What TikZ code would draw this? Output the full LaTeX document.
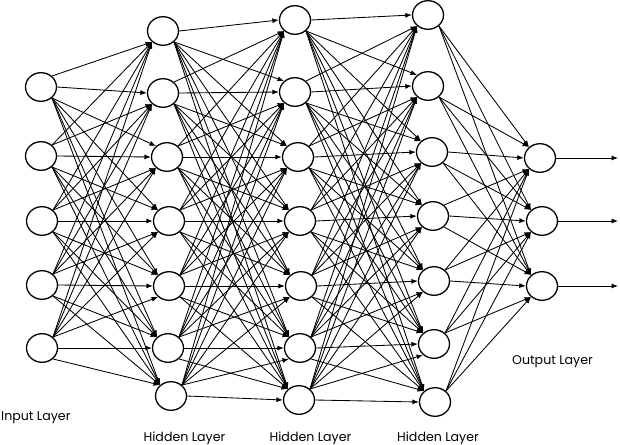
\documentclass[tikz,border=0pt]{standalone}
\usepackage{fontspec}
\setmainfont{Poppins}
\usetikzlibrary{arrows.meta,shapes.geometric}
\begin{document}
\begin{tikzpicture}[x=1pt,y=-1pt,
  neuron/.style={ellipse,draw,line width=1.3pt,minimum width=31pt,minimum height=28.6pt,inner sep=0pt},
  conn/.style={line width=0.85pt,-{Latex[length=6.5pt,width=5pt]}},
  lbl/.style={font=\fontsize{12.6}{14}\selectfont,inner sep=0pt,anchor=base}]
\useasboundingbox (0,0) rectangle (620,444);
% nodes
\foreach \n/\x/\y in {I1/41/87,I2/41/156,I3/42/221,I4/42/285,I5/42/348,
  A1/163/31,A2/163/93,A3/167/157,A4/169/221,A5/169/286,A6/168/348,A7/171/396,
  B1/295/20,B2/295/92,B3/298/157,B4/300/221,B5/301/286,B6/300/348,B7/299/400,
  C1/428/15,C2/428/86,C3/432/152,C4/433/216,C5/434/281,C6/434/344,C7/435/402,
  O1/540/158,O2/542/221,O3/542/286}
  {\node[neuron] (\n) at (\x,\y) {};}
\def\Ilist{I1/87,I2/156,I3/221,I4/285,I5/348}
\def\Alist{A1/31,A2/93,A3/157,A4/221,A5/286,A6/348,A7/396}
\def\Blist{B1/20,B2/92,B3/157,B4/221,B5/286,B6/348,B7/400}
\def\Clist{C1/15,C2/86,C3/152,C4/216,C5/281,C6/344,C7/402}
\def\Olist{O1/158,O2/221,O3/286}
\newcommand{\linklayers}[2]{%
  \foreach \s/\sy in #1 {%
    \foreach \t/\ty in #2 {%
      \pgfmathtruncatemacro\dd{\ty-\sy}%
      \pgfmathtruncatemacro\sa{\dd<-20 ? 45 : (\dd>20 ? 315 : 0)}%
      \pgfmathtruncatemacro\ta{\dd<-20 ? 225 : (\dd>20 ? 135 : 180)}%
      \draw[conn] (\s.\sa) -- (\t.\ta);
    }%
  }%
}
\linklayers{\Ilist}{\Alist}
\linklayers{\Alist}{\Blist}
\linklayers{\Blist}{\Clist}
\linklayers{\Clist}{\Olist}
% outputs
\coordinate (e1) at (618,158);
\coordinate (e2) at (618,221);
\coordinate (e3) at (618,286);
\draw[conn] (O1.east) -- (e1);
\draw[conn] (O2.east) -- (e2);
\draw[conn] (O3.east) -- (e3);
% labels
\node[lbl,anchor=base west] (inl) at (1,420.5) {Input Layer};
\node[lbl] (h1l) at (184.5,441) {Hidden Layer};
\node[lbl] (h2l) at (310.5,441) {Hidden Layer};
\node[lbl] (h3l) at (438,441) {Hidden Layer};
\node[lbl] (outl) at (552.5,364) {Output Layer};
\end{tikzpicture}
\end{document}
